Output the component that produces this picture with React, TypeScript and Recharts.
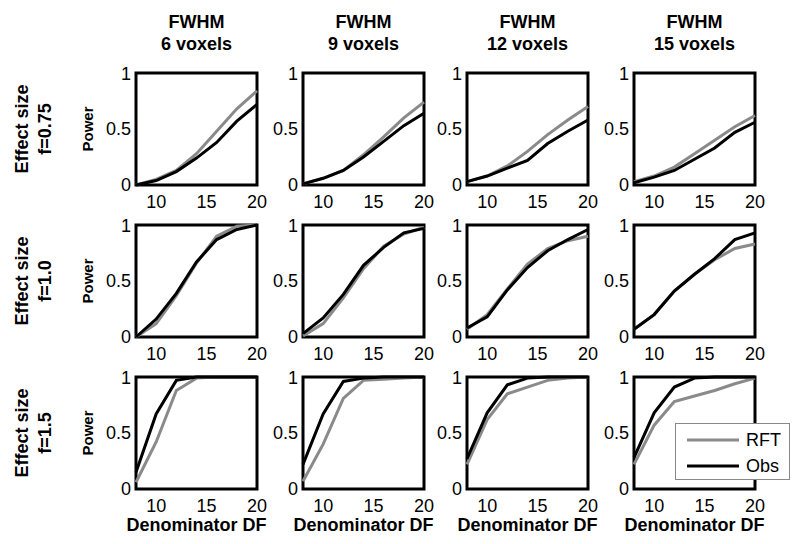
import { LineChart, Line, XAxis, YAxis, ReferenceArea, Legend } from 'recharts';

const df = [8, 10, 12, 14, 16, 18, 20];
const fwhmLabels = ['6 voxels', '9 voxels', '12 voxels', '15 voxels'];
const effectLabels = ['f=0.75', 'f=1.0', 'f=1.5'];
const seriesNames = ['RFT', 'Obs'];
const xTicks = [10, 15, 20];
const yTicks = [0, 0.5, 1];

// one array per FWHM column (6, 9, 12, 15 voxels), values at each df
const rftF075 = [
  [0.0, 0.05, 0.13, 0.28, 0.48, 0.68, 0.84],
  [0.01, 0.06, 0.13, 0.27, 0.43, 0.6, 0.74],
  [0.03, 0.08, 0.17, 0.3, 0.45, 0.58, 0.7],
  [0.03, 0.08, 0.16, 0.28, 0.4, 0.52, 0.62],
];
const obsF075 = [
  [0.0, 0.04, 0.12, 0.24, 0.38, 0.57, 0.72],
  [0.01, 0.06, 0.13, 0.25, 0.39, 0.53, 0.64],
  [0.03, 0.08, 0.15, 0.22, 0.37, 0.48, 0.58],
  [0.02, 0.07, 0.13, 0.23, 0.33, 0.47, 0.56],
];
const rftF10 = [
  [0.0, 0.12, 0.37, 0.66, 0.9, 0.99, 1.0],
  [0.01, 0.12, 0.35, 0.61, 0.81, 0.92, 0.98],
  [0.07, 0.2, 0.43, 0.65, 0.79, 0.86, 0.9],
  [0.07, 0.2, 0.41, 0.56, 0.69, 0.79, 0.83],
];
const obsF10 = [
  [0.0, 0.16, 0.39, 0.67, 0.87, 0.96, 1.0],
  [0.03, 0.17, 0.38, 0.64, 0.8, 0.93, 0.97],
  [0.08, 0.18, 0.42, 0.62, 0.77, 0.87, 0.96],
  [0.07, 0.2, 0.41, 0.56, 0.7, 0.87, 0.93],
];
const rftF15 = [
  [0.06, 0.42, 0.88, 0.99, 1.0, 1.0, 1.0],
  [0.07, 0.4, 0.81, 0.97, 0.98, 0.99, 1.0],
  [0.22, 0.62, 0.85, 0.91, 0.97, 0.99, 1.0],
  [0.22, 0.57, 0.78, 0.83, 0.88, 0.94, 0.99],
];
const obsF15 = [
  [0.15, 0.67, 0.97, 1.0, 1.0, 1.0, 1.0],
  [0.22, 0.67, 0.96, 0.99, 1.0, 1.0, 1.0],
  [0.27, 0.68, 0.93, 0.99, 1.0, 1.0, 1.0],
  [0.28, 0.68, 0.91, 0.99, 1.0, 1.0, 1.0],
];

const rftRows = [rftF075, rftF10, rftF15];
const obsRows = [obsF075, obsF10, obsF15];

const FONT = '"Liberation Sans", Arial, sans-serif';
const GRAY = '#8a8a8a';
const plotLefts = [136, 303, 467, 634];
const plotTops = [73, 225, 377];
const plotW = 121;
const plotH = 112;
const AXIS_W = 60;

const renderLegend = (props: any) => {
  const items = [...(props.payload || [])].sort(
    (a: any, b: any) => seriesNames.indexOf(a.value) - seriesNames.indexOf(b.value)
  );
  return (
    <div
      style={{
        border: '1px solid #888',
        background: '#fff',
        width: 115,
        height: 57,
        boxSizing: 'border-box',
        padding: '3px 0 0 11px',
        fontFamily: FONT,
      }}
    >
      {items.map((entry: any) => (
        <div key={entry.value} style={{ display: 'flex', alignItems: 'center', height: 26 }}>
          <svg width={52} height={4}>
            <line x1={0} x2={52} y1={2} y2={2} stroke={entry.color} strokeWidth={3} />
          </svg>
          <span style={{ marginLeft: 7, fontSize: 18, color: '#000' }}>{entry.value}</span>
        </div>
      ))}
    </div>
  );
};

function Panel({ row, col }: { row: number; col: number }) {
  const rft = rftRows[row][col];
  const obs = obsRows[row][col];
  const data = df.map((d, i) => ({ df: d, rft: rft[i], obs: obs[i] }));
  const isLegend = row === 2 && col === 3;
  return (
    <div style={{ position: 'absolute', left: plotLefts[col] - AXIS_W, top: plotTops[row] - 10 }}>
      <LineChart
        width={AXIS_W + plotW + 10}
        height={10 + plotH + 30}
        data={data}
        margin={{ top: 10, right: 10, bottom: 0, left: 0 }}
      >
        <XAxis
          dataKey="df"
          type="number"
          domain={[8, 20]}
          ticks={xTicks}
          height={30}
          axisLine={false}
          tickLine={false}
          tickSize={0}
          tickMargin={10}
          tick={{ fill: '#000', fontSize: 18, fontFamily: FONT }}
        />
        <YAxis
          type="number"
          domain={[0, 1]}
          ticks={yTicks}
          width={AXIS_W}
          axisLine={false}
          tickLine={false}
          tickSize={0}
          tickMargin={5}
          tick={{ fill: '#000', fontSize: 18, fontFamily: FONT }}
        />
        <Line type="linear" dataKey="rft" name="RFT" stroke={GRAY} strokeWidth={3} dot={false} isAnimationActive={false} />
        <Line type="linear" dataKey="obs" name="Obs" stroke="#000" strokeWidth={3} dot={false} isAnimationActive={false} />
        <ReferenceArea x1={8} x2={20} y1={0} y2={1} fill="none" fillOpacity={0} stroke="#000" strokeWidth={3} ifOverflow="visible" />
        {isLegend && (
          <Legend
            layout="horizontal"
            align="center"
            verticalAlign="middle"
            content={renderLegend}
            wrapperStyle={{ left: 101, top: 56, width: 115, height: 57 }}
          />
        )}
      </LineChart>
    </div>
  );
}

const rotated = (cx: number, cy: number, size: number): React.CSSProperties => ({
  position: 'absolute',
  left: cx,
  top: cy,
  transform: 'translate(-50%, -50%) rotate(-90deg)',
  whiteSpace: 'nowrap',
  fontWeight: 'bold',
  fontSize: size,
  lineHeight: 1,
});

export default function App() {
  return (
    <div
      style={{
        position: 'absolute',
        left: 0,
        top: 0,
        width: 800,
        height: 544,
        background: '#fff',
        fontFamily: FONT,
        color: '#000',
      }}
    >
      {fwhmLabels.map((lab, c) => (
        <div
          key={lab}
          style={{
            position: 'absolute',
            left: plotLefts[c] + plotW / 2 - 60,
            width: 120,
            top: 11,
            textAlign: 'center',
            fontWeight: 'bold',
            fontSize: 18,
            lineHeight: '22px',
          }}
        >
          <div>FWHM</div>
          <div>{lab}</div>
        </div>
      ))}
      {effectLabels.map((lab, r) => (
        <div key={lab}>
          <div style={rotated(22, plotTops[r] + plotH / 2, 18)}>Effect size</div>
          <div style={rotated(45, plotTops[r] + plotH / 2, 18)}>{lab}</div>
        </div>
      ))}
      {[0, 1, 2].map((r) =>
        [0, 1, 2, 3].map((c) => <Panel key={`${r}-${c}`} row={r} col={c} />)
      )}
      {[0, 1, 2].map((r) => (
        <div key={`p${r}`} style={rotated(plotLefts[0] - 49, plotTops[r] + plotH / 2, 15)}>
          Power
        </div>
      ))}
      {plotLefts.map((l) => (
        <div
          key={`x${l}`}
          style={{
            position: 'absolute',
            left: l + plotW / 2 - 80,
            width: 160,
            top: 515,
            textAlign: 'center',
            fontWeight: 'bold',
            fontSize: 18,
            lineHeight: '20px',
          }}
        >
          Denominator DF
        </div>
      ))}
    </div>
  );
}
